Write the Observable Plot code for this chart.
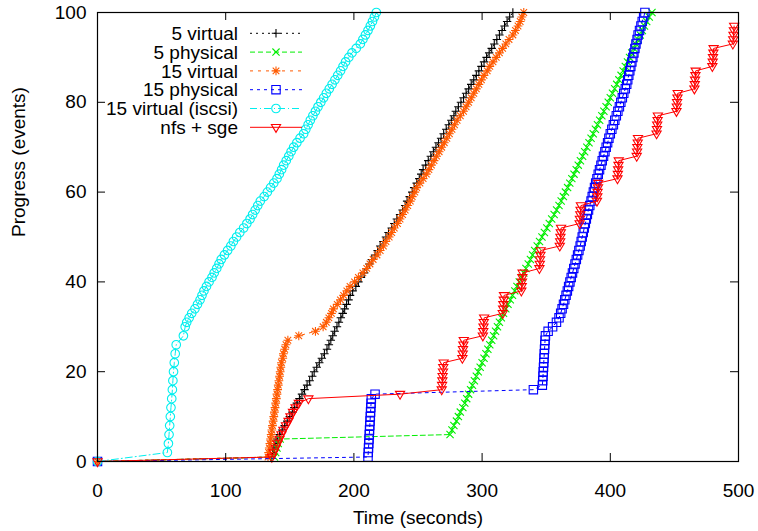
<!DOCTYPE html>
<html>
<head>
<meta charset="utf-8">
<script src="https://cdn.jsdelivr.net/npm/d3@7"></script>
<script src="https://cdn.jsdelivr.net/npm/@observablehq/plot@0.6"></script>
<style>
  html, body { margin: 0; padding: 0; background: #fff; }
  #chart { width: 758px; height: 531px; }
</style>
</head>
<body>
<div id="chart"></div>
<script>
// ---------- data (time in seconds at which each progress level was reached) ----------
const progress = [0,1,2,3,4,5,6,7,8,9,10,11,12,13,14,15,16,17,18,19,20,21,22,23,24,25,26,27,28,29,30,31,32,33,34,35,36,37,38,39,40,41,42,43,44,45,46,47,48,49,50,51,52,53,54,55,56,57,58,59,60,61,62,63,64,65,66,67,68,69,70,71,72,73,74,75,76,77,78,79,80,81,82,83,84,85,86,87,88,89,90,91,92,93,94,95,96,97,98,99,100];

const xTicks = [0, 100, 200, 300, 400, 500];
const yTicks = [0, 20, 40, 60, 80, 100];

const seriesNames = ["5 virtual", "5 physical", "15 virtual", "15 physical", "15 virtual (iscsi)", "nfs + sge"];

const t5virtual = [0,
  135.5,136.5,137.5,138.5,140,
  142,144,146,148,150,152,153.5,155.5,157.5,159.5,161.5,163.5,165.5,167.5,169,171,173,175,177,179,
  180.5,182,183.5,185,186.8,188.3,189.8,191.3,192.8,194.3,195.8,197,
  199,201.5,203.5,205.5,208,210,212,214,216.5,218.5,220.5,223,
  225,227,229.5,231.5,233.5,236,238,240,241.5,243.5,245.5,247,249,
  251,252.5,254,256,258,260,262,264,266,268,
  270,272,274,276,278,279.5,281.5,283.5,285.5,287.5,
  289.5,291.5,293.5,295.5,297.5,299.5,301.5,303.5,305.5,307.5,
  309.5,311.5,313.5,315.5,317.5,319.5,321.5,324];

const t5physical = [0,
  138,139,140,141,142.5,
  275,
  276.5,278,280,281.5,283,285,286.5,288,289.5,291,292.5,294,295.5,297,298.5,300,301.5,303,304.5,306,307.5,309,310.5,312,313.5,315,
  316.7,318.5,320.2,322,323.7,325.5,327.2,329,330.7,332.5,334.2,336,337.7,339.4,341,
  343,344.8,346.7,348.6,350.5,352.4,354.3,356.2,358.1,360,
  361.7,363.4,365,366.7,368.4,370,371.7,373.4,375,376.7,378.4,380,381.7,383.4,385,386.7,388.4,390,391.7,393.4,395,396.7,398.4,400,
  401.7,403.4,405,406.7,408.4,410,411.7,413.4,415,416.7,418.4,420,421.7,423.4,425,426.7,428.4,430.4,432.5];

const t15virtual = [0,
  133,133.5,134,134.5,135,135.5,136,136.5,137,137.5,138,138.5,139,139.5,140,140.5,141,141.5,142,142.5,143,143.5,144.5,145,146,147,148.5,
  157,170,176,178.5,
  180.5,182.5,184,187,189.5,192,194.5,197,200.5,203.5,207,210,212.5,215,218,220.5,223,
  225,227.5,229.5,231.5,234,236,238,240,242,244,245.5,247.5,249,
  251.5,254,256.5,258.5,260.5,262.5,264.5,266.5,268.5,270.5,272.5,274.5,276.5,278.5,280.5,283,285.5,
  287.5,289.5,291.5,293.5,295.5,297.5,299.5,301.5,304,306,308.5,311,313.5,316,318.5,321,324,326,328,329.7,331,332.5];

const t15physical = [0,
  211,211.2,211.4,211.6,211.8,212,212.2,212.4,212.6,212.8,213,213.2,213.4,213.6,216.5,
  340,
  347,347.3,347.5,347.7,347.9,348.1,348.3,348.5,348.7,348.9,349.1,349.4,
  351.5,355,358,360,361.3,362.4,363.5,364.5,365.5,366.5,367.5,368.5,369.5,370.5,371.5,372.5,373.5,374.5,375.5,376.5,
  377.3,378.1,378.9,379.7,380.5,381.3,382.1,383,384,385,385.9,386.8,387.7,388.6,389.6,
  390.6,391.6,392.7,393.7,394.7,395.8,396.8,397.9,398.9,400,
  401.2,402.4,403.5,404.7,405.9,407.1,408.2,409.4,410.5,411.7,412.8,
  413.6,414.4,415.2,416,416.8,417.6,418.4,419.2,420,420.9,421.7,422.8,423.9,424.9,426,427];

const t15iscsi = [0,
  null,54.5,null,55.3,null,55.8,null,56.3,null,56.8,null,57.3,null,57.9,null,58.4,null,58.8,null,59.3,null,59.9,null,60.6,null,61.4,null,67,null,
  68.4,69.6,71.5,73.5,76,78,80,81.5,83,85,87,89.3,91,93,94.8,96.5,99,101.5,104,106,
  108.5,111,114,116.5,119,121,123,125,127,130,132.5,135,137.5,140,141.8,143.6,145.2,147.2,149.2,151,
  153,155.5,158,160.8,162.5,164.3,166,168,170,172,174.2,176.4,178.5,180.8,183,185.2,187.4,189.6,191.5,193.5,
  196,198.5,201.8,205,207,209,211,212.8,214.5,216,217.5];

const tNfsSge = [0,
  136,137.5,139,140.5,142,143.5,145,147,149,150.5,152.5,154.5,157,164.5,
  236,268.5,
  268.8,269,269.2,269.5,269.7,270,
  284.6,284.9,285.1,285.4,285.7,
  300.6,300.9,301.1,301.3,301.6,
  316.1,316.4,316.6,316.9,317.1,
  330.6,330.9,331.1,331.4,331.6,
  344.7,345,345.2,345.5,345.7,
  360.6,360.9,361.1,361.4,361.6,
  376.1,376.3,376.6,376.8,377.1,
  389.6,389.9,390.1,390.4,390.6,
  405.6,405.9,406.1,406.4,406.6,
  420.6,420.9,421.1,421.4,421.6,
  436.1,436.4,436.6,436.9,437.1,
  451.6,451.9,452.1,452.4,452.6,
  465.6,465.9,466.1,466.4,466.6,
  479.6,479.9,480.1,480.4,480.6,
  495.6,495.9,496.1,496.4,496.6,
  null,null,null];

// ---------- gnuplot-like point symbols ----------
const rad = size => Math.sqrt(size / Math.PI);
const symPlus = {draw(c, s) { const r = rad(s); c.moveTo(-r, 0); c.lineTo(r, 0); c.moveTo(0, -r); c.lineTo(0, r); }};
const symTimes = {draw(c, s) { const r = rad(s); c.moveTo(-r, -r); c.lineTo(r, r); c.moveTo(-r, r); c.lineTo(r, -r); }};
const symStar = {draw(c, s) { const r = rad(s); const q = r * 0.75;
  c.moveTo(-r, 0); c.lineTo(r, 0); c.moveTo(0, -r); c.lineTo(0, r);
  c.moveTo(-q, -q); c.lineTo(q, q); c.moveTo(-q, q); c.lineTo(q, -q); }};
const symSquare = {draw(c, s) { const r = rad(s); c.moveTo(-r, -r); c.lineTo(r, -r); c.lineTo(r, r); c.lineTo(-r, r); c.closePath(); }};
const symCircle = {draw(c, s) { const r = rad(s); c.moveTo(r, 0); c.arc(0, 0, r, 0, 2 * Math.PI); c.closePath(); }};
const symTriDown = {draw(c, s) { const r = rad(s); c.moveTo(-r, -r * 0.6); c.lineTo(r, -r * 0.6); c.lineTo(0, r * 1.1); c.closePath(); }};

const series = [
  {name: seriesNames[0], t: t5virtual,   color: "#000000", dash: "2,4",       symbol: symPlus,   r: 4.2},
  {name: seriesNames[1], t: t5physical,  color: "#00ee00", dash: "5,3",       symbol: symTimes,  r: 3.6},
  {name: seriesNames[2], t: t15virtual,  color: "#ff5a00", dash: "3,5",       symbol: symStar,   r: 4.4},
  {name: seriesNames[3], t: t15physical, color: "#0000ff", dash: "3,4",       symbol: symSquare, r: 4.2},
  {name: seriesNames[4], t: t15iscsi,    color: "#00eeee", dash: "7,3,1,3",   symbol: symCircle, r: 4.3},
  {name: seriesNames[5], t: tNfsSge,     color: "#ff0000", dash: null,        symbol: symTriDown, r: 4.6}
];

const rows = [];
series.forEach(s => s.t.forEach((t, i) => { if (t != null) rows.push({series: s.name, time: t, progress: progress[i]}); }));

const W = 758, H = 531, mL = 97, mR = 20, mT = 12, mB = 70;
const plotW = W - mL - mR, plotH = H - mT - mB;
const tick = 8;

const marks = [];
for (const s of series) {
  const data = rows.filter(d => d.series === s.name);
  marks.push(Plot.line(data, {x: "time", y: "progress", stroke: s.color, strokeWidth: 1, strokeDasharray: s.dash || undefined}));
  marks.push(Plot.dot(data, {x: "time", y: "progress", stroke: s.color, fill: "none", symbol: s.symbol, r: s.r, strokeWidth: 1.1}));
}

const chart = Plot.plot({
  width: W, height: H,
  marginLeft: mL, marginRight: mR, marginTop: mT, marginBottom: mB,
  style: {fontFamily: "'Liberation Sans', Arial, Helvetica, sans-serif", fontSize: "19px", color: "#000", background: "#fff", overflow: "visible"},
  x: {domain: [0, 500], axis: null},
  y: {domain: [0, 100], axis: null},
  marks: [
    ...marks,
    Plot.tickX(xTicks, {x: d => d, stroke: "#000", strokeWidth: 1, insetTop: plotH - tick}),
    Plot.tickX(xTicks, {x: d => d, stroke: "#000", strokeWidth: 1, insetBottom: plotH - tick}),
    Plot.tickY(yTicks, {y: d => d, stroke: "#000", strokeWidth: 1, insetRight: plotW - tick}),
    Plot.tickY(yTicks, {y: d => d, stroke: "#000", strokeWidth: 1, insetLeft: plotW - tick}),
    Plot.frame({stroke: "#000", strokeWidth: 1.2}),
    Plot.text(xTicks, {x: d => d, text: d => String(d), frameAnchor: "bottom", dy: 29, lineAnchor: "middle", fill: "#000"}),
    Plot.text(yTicks, {y: d => d, text: d => String(d), frameAnchor: "left", dx: -11, textAnchor: "end", lineAnchor: "middle", fill: "#000"}),
    Plot.text(["Time (seconds)"], {frameAnchor: "bottom", dy: 56, lineAnchor: "middle", fill: "#000"}),
    Plot.text(["Progress (events)"], {frameAnchor: "left", dx: -79, rotate: -90, lineAnchor: "middle", fill: "#000"})
  ]
});

// ---------- key (legend) inside the plot, gnuplot style ----------
const svg = d3.select(chart);
const key = svg.append("g").attr("class", "key");
const keyTextX = 238, keyLineX1 = 250, keyLineX2 = 302, keyY0 = 33.3, keyDY = 18.8;
series.forEach((s, i) => {
  const y = keyY0 + i * keyDY;
  key.append("text").attr("x", keyTextX).attr("y", y).attr("dy", "0.35em")
    .attr("text-anchor", "end").attr("fill", "#000").text(s.name);
  key.append("line").attr("x1", keyLineX1).attr("x2", keyLineX2).attr("y1", y).attr("y2", y)
    .attr("stroke", s.color).attr("stroke-width", 1).attr("stroke-dasharray", s.dash);
  key.append("path").attr("transform", `translate(${(keyLineX1 + keyLineX2) / 2},${y})`)
    .attr("d", d3.symbol(s.symbol, Math.PI * s.r * s.r)())
    .attr("fill", "none").attr("stroke", s.color).attr("stroke-width", 1.1);
});

document.getElementById("chart").appendChild(chart);
</script>
</body>
</html>
